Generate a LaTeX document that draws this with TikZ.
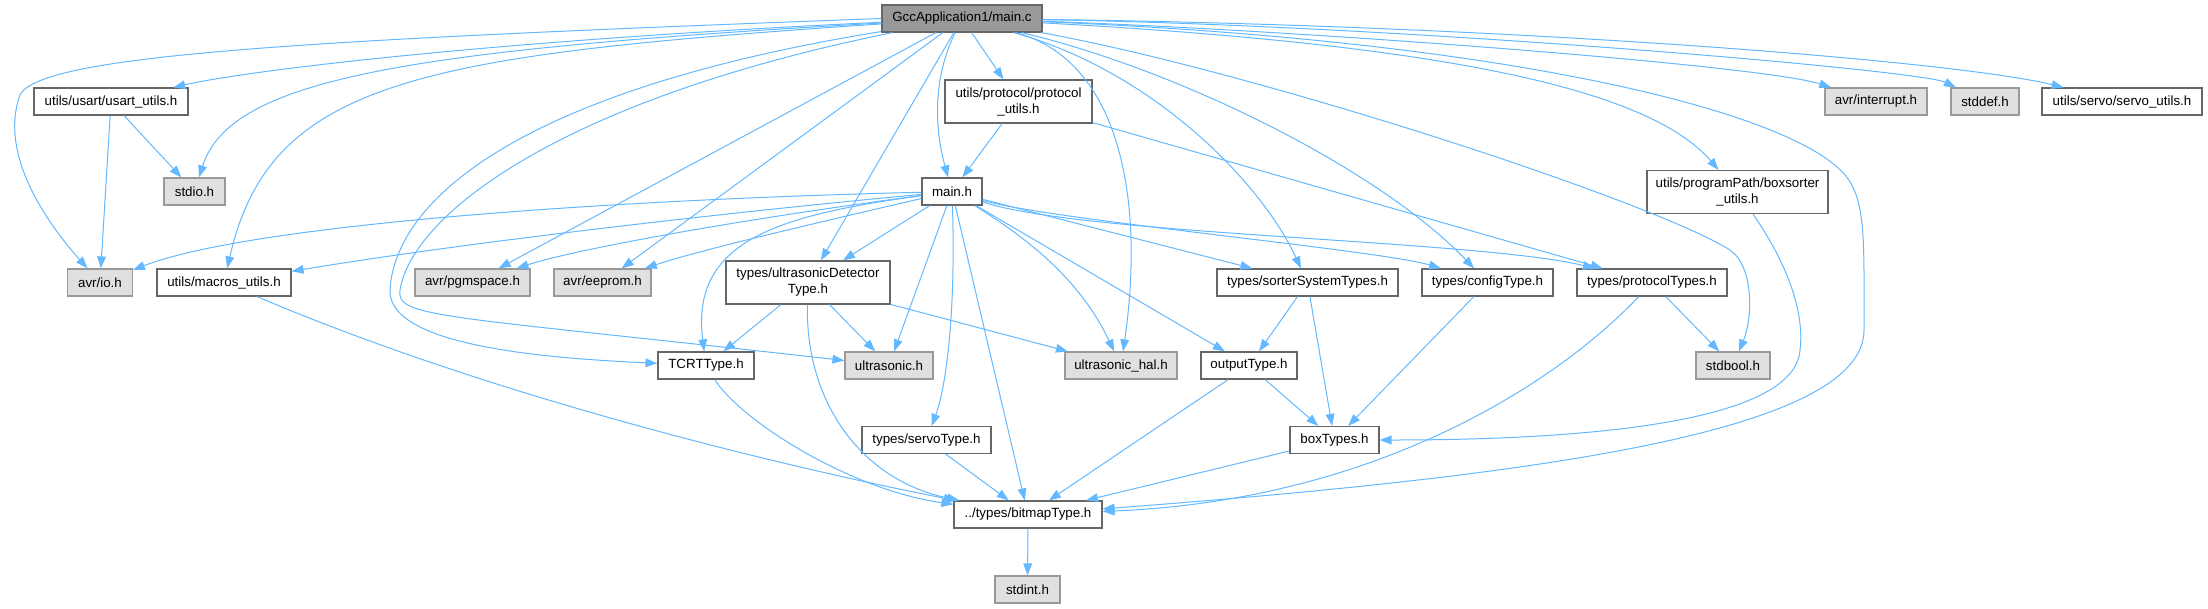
\documentclass[tikz,border=0pt]{standalone}
\usepackage{fontspec}
\setmainfont{Liberation Sans}
\usetikzlibrary{arrows.meta}

\definecolor{incblue}{HTML}{63B8FF}
\definecolor{fileborder}{HTML}{666666}
\definecolor{sysborder}{HTML}{999999}
\definecolor{sysfill}{HTML}{E0E0E0}
\definecolor{rootfill}{HTML}{999999}

\begin{document}
\begin{tikzpicture}[x=0.75pt, y=-0.75pt, >={Triangle[length=9pt,width=6.5pt]},
  file/.style={draw=fileborder, fill=white, line width=0.9pt, minimum height=20.25pt,
    inner sep=1pt, font=\fontsize{10}{12}\selectfont},
  sysfile/.style={file, draw=sysborder, fill=sysfill},
  rootfile/.style={file, fill=rootfill},
  twoline/.style={minimum height=32.25pt, align=center},
  inc/.style={->, draw=incblue, line width=0.75pt}]

% Canvas (pixel units)
\useasboundingbox (0,0) rectangle (2208,608);

% Rank 0
\node[rootfile, minimum width=120pt] (mainc) at (962,18.5) {GccApplication1/main.c};

% Rank 1
\node[file, minimum width=115.5pt] (usart) at (111,101.5) {utils/usart/usart\_utils.h};
\node[file, twoline, minimum width=110.25pt] (protoutils) at (1018.5,101.5) {utils/protocol/protocol\\\_utils.h};
\node[sysfile, minimum width=76.5pt] (interrupt) at (1876,101.5) {avr/interrupt.h};
\node[sysfile, minimum width=51pt] (stddef) at (1985,101.5) {stddef.h};
\node[file, minimum width=120pt] (servoutils) at (2122,101.5) {utils/servo/servo\_utils.h};

% Rank 2
\node[sysfile, minimum width=45.75pt] (stdio) at (194.5,191.5) {stdio.h};
\node[file, minimum width=45pt] (mainh) at (952,191.5) {main.h};
\node[file, twoline, minimum width=135.75pt] (boxsorter) at (1737.5,192) {utils/programPath/boxsorter\\\_utils.h};

% Rank 3
\node[sysfile, minimum width=48.4pt] (avrio) at (100,282.5) {avr/io.h};
\node[file, minimum width=100.5pt] (macros) at (224,282.5) {utils/macros\_utils.h};
\node[sysfile, minimum width=86.25pt] (pgmspace) at (472.5,282.5) {avr/pgmspace.h};
\node[sysfile, minimum width=72.75pt] (eeprom) at (602.5,282.5) {avr/eeprom.h};
\node[file, twoline, minimum width=123pt] (ultradet) at (808,282.5) {types/ultrasonicDetector\\Type.h};
\node[file, minimum width=135.75pt] (sorter) at (1307.5,282.5) {types/sorterSystemTypes.h};
\node[file, minimum width=98.25pt] (config) at (1487.5,282.5) {types/configType.h};
\node[file, minimum width=112.5pt] (prottypes) at (1652,282.5) {types/protocolTypes.h};

% Rank 4
\node[file, minimum width=72pt] (tcrt) at (706,365.5) {TCRTType.h};
\node[sysfile, minimum width=66pt] (ultra) at (889,365.5) {ultrasonic.h};
\node[sysfile, minimum width=84pt] (ultrahal) at (1121,365.5) {ultrasonic\_hal.h};
\node[file, minimum width=72pt] (output) at (1249,365.5) {outputType.h};
\node[sysfile, minimum width=55.5pt] (stdbool) at (1733,365.5) {stdbool.h};

% Rank 5
\node[file, minimum width=96.75pt] (servotype) at (926.5,440) {types/servoType.h};
\node[file, minimum width=66.75pt] (boxtypes) at (1334.5,440) {boxTypes.h};

% Rank 6 and 7
\node[file, minimum width=111pt] (bitmap) at (1028,514.5) {../types/bitmapType.h};
\node[sysfile, minimum width=48.75pt] (stdint) at (1027.5,589.5) {stdint.h};

% main.c includes
\draw[inc] (mainc.west) .. controls (300,40) and (40,55) .. (20,95) .. controls (0,150) and (40,215) .. (avrio);
\draw[inc] (mainc) .. controls (500,40) and (250,70) .. (usart);
\draw[inc] (mainc) .. controls (400,50) and (230,80) .. (stdio);
\draw[inc] (mainc) .. controls (420,55) and (270,80) .. (macros);
\draw[inc] (mainc) .. controls (520,90) and (395,200) .. (390,290) .. controls (388,345) and (540,358) .. (tcrt);
\draw[inc] (mainc) .. controls (560,100) and (412,215) .. (400,290) .. controls (396,318) and (440,315) .. (ultra);
\draw[inc] (mainc) -- (pgmspace);
\draw[inc] (mainc) -- (eeprom);
\draw[inc] (mainc) -- (ultradet);
\draw[inc] (mainc) .. controls (932,80) and (935,130) .. (mainh);
\draw[inc] (mainc) -- (protoutils);
\draw[inc] (mainc) .. controls (1120,60) and (1145,200) .. (ultrahal);
\draw[inc] (mainc) .. controls (1150,70) and (1260,180) .. (sorter);
\draw[inc] (mainc) .. controls (1180,70) and (1380,170) .. (config);
\draw[inc] (mainc) .. controls (1450,45) and (1650,90) .. (boxsorter);
\draw[inc] (mainc) .. controls (1250,70) and (1650,200) .. (1730,250) .. controls (1755,268) and (1752,320) .. (stdbool);
\draw[inc] (mainc) .. controls (1500,40) and (1790,110) .. (1845,175) .. controls (1866,200) and (1864,240) .. (1864,330) .. controls (1864,430) and (1550,475) .. (bitmap);
\draw[inc] (mainc) .. controls (1300,30) and (1760,65) .. (interrupt);
\draw[inc] (mainc) .. controls (1400,25) and (1920,70) .. (stddef);
\draw[inc] (mainc) .. controls (1500,25) and (1950,60) .. (servoutils);

% usart_utils.h and protocol_utils.h
\draw[inc] (usart) -- (avrio);
\draw[inc] (usart) -- (stdio);
\draw[inc] (protoutils) -- (mainh);
\draw[inc] (protoutils) -- (prottypes);

% main.h includes
\draw[inc] (mainh) .. controls (600,200) and (250,225) .. (avrio);
\draw[inc] (mainh) .. controls (700,215) and (450,245) .. (macros);
\draw[inc] (mainh) .. controls (750,218) and (580,248) .. (pgmspace);
\draw[inc] (mainh) .. controls (820,222) and (700,250) .. (eeprom);
\draw[inc] (mainh) .. controls (780,215) and (690,240) .. (tcrt);
\draw[inc] (mainh) -- (ultradet);
\draw[inc] (mainh) -- (ultra);
\draw[inc] (mainh) .. controls (956,320) and (945,390) .. (servotype);
\draw[inc] (mainh) -- (bitmap);
\draw[inc] (mainh) .. controls (1030,240) and (1080,280) .. (ultrahal);
\draw[inc] (mainh) -- (output);
\draw[inc] (mainh) -- (sorter);
\draw[inc] (mainh) .. controls (1050,220) and (1380,250) .. (config);
\draw[inc] (mainh) .. controls (1080,235) and (1480,240) .. (prottypes);

% ultrasonicDetectorType.h includes
\draw[inc] (ultradet) -- (tcrt);
\draw[inc] (ultradet) -- (ultra);
\draw[inc] (ultradet) -- (ultrahal);
\draw[inc] (ultradet) .. controls (805,400) and (860,480) .. (bitmap);

% type headers
\draw[inc] (tcrt) .. controls (740,420) and (850,490) .. (bitmap);
\draw[inc] (macros) .. controls (500,400) and (800,470) .. (bitmap);
\draw[inc] (servotype) -- (bitmap);
\draw[inc] (sorter) -- (output);
\draw[inc] (sorter) -- (boxtypes);
\draw[inc] (output) -- (boxtypes);
\draw[inc] (output) -- (bitmap);
\draw[inc] (config) -- (boxtypes);
\draw[inc] (prottypes) -- (stdbool);
\draw[inc] (prottypes) .. controls (1560,380) and (1380,500) .. (bitmap);
\draw[inc] (boxsorter) .. controls (1785,260) and (1805,310) .. (1800,350) .. controls (1795,420) and (1600,440) .. (boxtypes);
\draw[inc] (boxtypes) -- (bitmap);
\draw[inc] (bitmap) -- (stdint);

\end{tikzpicture}
\end{document}
